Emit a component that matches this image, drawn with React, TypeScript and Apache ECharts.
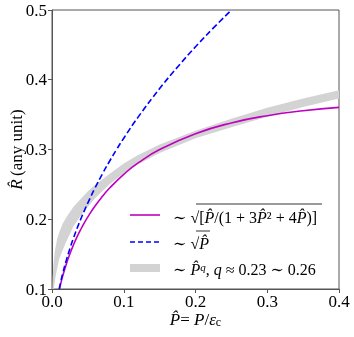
import React, { useEffect, useRef } from "react";
import * as echarts from "echarts";

// x: P-hat, y: R-hat
const magentaP = [0.0104, 0.0125, 0.015, 0.02, 0.025, 0.03, 0.035, 0.04, 0.045, 0.05, 0.06, 0.07, 0.08, 0.1, 0.12, 0.15, 0.2, 0.25, 0.3, 0.35, 0.4];
const magentaR = [0.0999, 0.1091, 0.1189, 0.136, 0.1506, 0.1635, 0.1749, 0.1853, 0.1948, 0.2035, 0.219, 0.2325, 0.2444, 0.2644, 0.2807, 0.2999, 0.3227, 0.3381, 0.3485, 0.3556, 0.3604];

const blueP = [0.01, 0.0125, 0.015, 0.02, 0.025, 0.03, 0.035, 0.04, 0.045, 0.05, 0.06, 0.07, 0.08, 0.09, 0.1, 0.12, 0.15, 0.175, 0.2, 0.225, 0.25];
const blueR = [0.1, 0.1118, 0.1225, 0.1414, 0.1581, 0.1732, 0.1871, 0.2, 0.2121, 0.2236, 0.2449, 0.2646, 0.2828, 0.3, 0.3162, 0.3464, 0.3873, 0.4183, 0.4472, 0.4743, 0.5];

const bandUpperP = [0.0003, 0.001, 0.002, 0.004, 0.007, 0.01, 0.015, 0.02, 0.03, 0.04, 0.05, 0.06, 0.08, 0.1, 0.12, 0.15, 0.2, 0.25, 0.3, 0.35, 0.4];
const bandUpperR = [0.095, 0.117, 0.135, 0.154, 0.171, 0.181, 0.194, 0.203, 0.218, 0.229, 0.24, 0.249, 0.265, 0.28, 0.292, 0.307, 0.327, 0.344, 0.36, 0.373, 0.385];
const bandLowerP = [0.002, 0.003, 0.005, 0.007, 0.01, 0.015, 0.02, 0.03, 0.04, 0.05, 0.06, 0.08, 0.1, 0.12, 0.15, 0.2, 0.25, 0.3, 0.35, 0.4];
const bandLowerR = [0.097, 0.104, 0.118, 0.128, 0.143, 0.156, 0.168, 0.19, 0.205, 0.218, 0.23, 0.25, 0.266, 0.279, 0.295, 0.316, 0.332, 0.347, 0.361, 0.373];

const xTicks = { min: 0, max: 0.4, interval: 0.1 };
const yTicks = { min: 0.1, max: 0.5, interval: 0.1 };

const SERIF = "'Liberation Serif', 'DejaVu Serif', serif";

export default function App() {
  const ref = useRef<HTMLDivElement>(null);
  useEffect(() => {
    if (!ref.current) return;
    const chart = echarts.init(ref.current, null, { renderer: "svg" });
    const zip = (xs: number[], ys: number[]) => xs.map((x, i) => [x, ys[i]]);
    const upper = zip(bandUpperP, bandUpperR);
    const lower = zip(bandLowerP, bandLowerR);
    const axisLine = { show: true, lineStyle: { color: "#555", width: 1 } };
    const LF = 16;
    const option: any = {
      animation: false,
      grid: {
        left: 52, right: 15, top: 10, bottom: 48,
        show: true, borderColor: "#555", borderWidth: 1,
        containLabel: false, outerBoundsMode: "none",
      },
      xAxis: {
        type: "value",
        min: xTicks.min,
        max: xTicks.max,
        interval: xTicks.interval,
        axisLine,
        axisTick: { show: true, inside: false, length: 4, lineStyle: { color: "#555" } },
        splitLine: { show: false },
        axisLabel: {
          margin: 4,
          color: "#000",
          fontFamily: SERIF,
          fontSize: 17,
          formatter: (v: number) => v.toFixed(1),
        },
        name: "{i|P̂}{r|= }{i|P}{r|/}{i|ε}{s|c}",
        nameLocation: "middle",
        nameGap: 22,
        nameMoveOverlap: false,
        nameTextStyle: {
          rich: {
            i: { fontFamily: SERIF, fontStyle: "italic", fontSize: 17, color: "#000" },
            r: { fontFamily: SERIF, fontSize: 17, color: "#000" },
            s: { fontFamily: SERIF, fontSize: 12, color: "#000", verticalAlign: "bottom" },
          },
        },
      },
      yAxis: {
        type: "value",
        min: yTicks.min,
        max: yTicks.max,
        interval: yTicks.interval,
        axisLine,
        axisTick: { show: true, inside: false, length: 4, lineStyle: { color: "#555" } },
        splitLine: { show: false },
        axisLabel: {
          margin: 5,
          color: "#000",
          fontFamily: SERIF,
          fontSize: 17,
          formatter: (v: number) => v.toFixed(1),
        },
        name: "{i|R̂} {r|(any unit)}",
        nameLocation: "middle",
        nameGap: 27,
        nameMoveOverlap: false,
        nameTextStyle: {
          rich: {
            i: { fontFamily: SERIF, fontStyle: "italic", fontSize: 17, color: "#000" },
            r: { fontFamily: SERIF, fontSize: 17, color: "#000" },
          },
        },
      },
      series: [
        {
          type: "custom",
          name: "band",
          clip: true,
          data: [[0, 0]],
          z: 1,
          renderItem: (params: any, api: any) => {
            const pts = upper.map((p) => api.coord(p)).concat(lower.slice().reverse().map((p) => api.coord(p)));
            return {
              type: "polygon",
              shape: { points: pts },
              style: { fill: "#d3d3d3", stroke: "none" },
            };
          },
        },
        {
          type: "line",
          name: "magenta",
          data: zip(magentaP, magentaR),
          showSymbol: false,
          smooth: true,
          clip: true,
          z: 3,
          lineStyle: { color: "#bf00bf", width: 1.6 },
        },
        {
          type: "line",
          name: "blue",
          data: zip(blueP, blueR),
          showSymbol: false,
          smooth: true,
          clip: true,
          z: 3,
          lineStyle: { color: "#0000ff", width: 1.6, type: [6, 3] },
        },
      ],
      graphic: [
        { type: "line", shape: { x1: 130, y1: 215, x2: 160, y2: 215 }, style: { stroke: "#bf00bf", lineWidth: 1.6 } },
        { type: "line", shape: { x1: 130, y1: 242, x2: 160, y2: 242 }, style: { stroke: "#0000ff", lineWidth: 1.6, lineDash: [5, 3] } },
        { type: "rect", shape: { x: 130, y: 264, width: 30, height: 8 }, style: { fill: "#d3d3d3" } },
        {
          type: "text",
          x: 173,
          y: 217,
          style: {
            text: "{r|∼ √[}{i|P̂}{r|/(1 + 3}{i|P̂}{r|² + 4}{i|P̂}{r|)]}",
            verticalAlign: "middle",
            rich: {
              r: { fontFamily: SERIF, fontSize: LF, fill: "#000" },
              i: { fontFamily: SERIF, fontSize: LF, fontStyle: "italic", fill: "#000" },
            },
          },
        },
        { type: "line", shape: { x1: 196, y1: 204, x2: 322, y2: 204 }, style: { stroke: "#000", lineWidth: 0.8 } },
        {
          type: "text",
          x: 173,
          y: 243,
          style: {
            text: "{r|∼ √}{i|P̂}",
            verticalAlign: "middle",
            rich: {
              r: { fontFamily: SERIF, fontSize: LF, fill: "#000" },
              i: { fontFamily: SERIF, fontSize: LF, fontStyle: "italic", fill: "#000" },
            },
          },
        },
        { type: "line", shape: { x1: 196, y1: 231, x2: 210, y2: 231 }, style: { stroke: "#000", lineWidth: 0.8 } },
        {
          type: "text",
          x: 173,
          y: 269,
          style: {
            text: "{r|∼ }{i|P̂}{sup|q}{r|, }{i|q}{r| ≈ 0.23 ∼ 0.26}",
            verticalAlign: "middle",
            rich: {
              r: { fontFamily: SERIF, fontSize: LF, fill: "#000" },
              i: { fontFamily: SERIF, fontSize: LF, fontStyle: "italic", fill: "#000" },
              sup: { fontFamily: SERIF, fontSize: 11, fontStyle: "italic", fill: "#000", verticalAlign: "top" },
            },
          },
        },
      ],
    };
    chart.setOption(option);
    return () => chart.dispose();
  }, []);
  return <div ref={ref} style={{ position: "fixed", left: 0, top: 0, width: 354, height: 337 }} />;
}
